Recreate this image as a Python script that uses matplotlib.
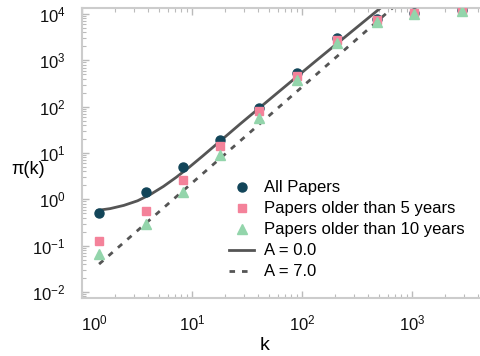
import matplotlib
matplotlib.use("Agg")
import matplotlib.pyplot as plt
from matplotlib.transforms import ScaledTranslation
from matplotlib.ticker import LogLocator, NullFormatter

plt.rcParams['font.family'] = ['Liberation Sans', 'DejaVu Sans']
plt.rcParams['mathtext.default'] = 'regular'
plt.rcParams['axes.unicode_minus'] = False

# data
k_vals = [1.43, 3.82, 8.28, 18.0, 40.6, 90.1, 208, 481, 1043, 2850]
all_papers = [0.50, 1.43, 4.96, 19.0, 93, 532, 3020, 7800, 10500, 12200]
older5 = [0.125, 0.556, 2.6, 14.1, 80, 458, 2750, 7400, 10500, 12200]
older10 = [0.065, 0.29, 1.43, 9.0, 57, 376, 2370, 6700, 10000, 11600]

fit_a0_k = [1.4, 1.8, 2.4, 3.2, 4.2, 5.5, 7.2, 9.5, 12.5, 18, 27.3, 60, 130, 273, 600]
fit_a0_v = [0.58, 0.63, 0.74, 0.93, 1.28, 1.9, 3.0, 5.0, 8.6, 18, 42, 200, 920, 3900, 18000]
fit_a7_k = [1.43, 700]
fit_a7_v = [0.040, 15000]

labels = ["All Papers", "Papers older than 5 years", "Papers older than 10 years",
          "A = 0.0", "A = 7.0"]

W, H = 481, 356
fig = plt.figure(figsize=(W / 100, H / 100), dpi=100)
ax = fig.add_axes([82 / W, 58 / H, (W - 82) / W, 290 / H])

line_col = '#555555'
ax.plot(fit_a0_k, fit_a0_v, color=line_col, lw=2.0, zorder=2, label=labels[3])
ax.plot(fit_a7_k, fit_a7_v, color=line_col, lw=2.0, ls=(0, (2, 2.5)), zorder=2, label=labels[4])
ax.plot(k_vals, all_papers, 'o', color='#124559', ms=6.5, zorder=3, label=labels[0])
ax.plot(k_vals, older5, 's', color='#f4829a', ms=6, zorder=4, label=labels[1])
ax.plot(k_vals, older10, '^', color='#93d5ab', ms=7.5, zorder=5, label=labels[2])

ax.set_xscale('log')
ax.set_yscale('log')
ax.set_xlim(1.0, 10 ** ((W - 82) / 110))
ax.set_ylim(10 ** (-2 - 6 / 46.3), 10 ** (4 + 6 / 46.3))

ax.yaxis.set_major_locator(LogLocator(base=10, numticks=20))
ax.yaxis.set_minor_locator(LogLocator(base=10, subs=range(2, 10), numticks=20))
ax.yaxis.set_minor_formatter(NullFormatter())
ax.xaxis.set_minor_formatter(NullFormatter())

for s in ['left', 'top', 'bottom']:
    ax.spines[s].set_color('#cccccc')
    ax.spines[s].set_linewidth(1.5)
ax.spines['right'].set_visible(False)

ax.tick_params(which='both', direction='in', color='#bbbbbb', top=True, right=False,
               labelsize=12, labelcolor='#111111')
ax.tick_params(which='major', length=5, width=1)
ax.tick_params(which='minor', length=3, width=0.8)
ax.tick_params(axis='y', which='major', pad=12)
ax.tick_params(axis='x', which='major', pad=11)

ax.set_xlabel('k', fontsize=14, va='center')
ax.set_ylabel('π(k)', fontsize=13, rotation=0, ha='center', va='center')
ax.xaxis.set_label_coords((265 - 82) / (W - 82), -(345 - 298) / 290)
ax.yaxis.set_label_coords(-(82 - 28) / (W - 82), (298 - 170) / 290)

handles, labs = ax.get_legend_handles_labels()
order = [2, 3, 4, 0, 1]
leg = ax.legend([handles[i] for i in order], [labs[i] for i in order],
                loc='upper left', bbox_to_anchor=(221 / W, 1 - 172 / H),
                bbox_transform=fig.transFigure, frameon=False, fontsize=12,
                borderpad=0, labelspacing=0.36, handlelength=1.5, handletextpad=0.6)

fig.canvas.draw()
for t in ax.xaxis.get_major_ticks():
    if abs(t.get_loc() - 1.0) < 1e-9:
        t.label1.set_transform(t.label1.get_transform() +
                               ScaledTranslation(12 / 100, 0, fig.dpi_scale_trans))

fig.savefig('out.png', dpi=100)
